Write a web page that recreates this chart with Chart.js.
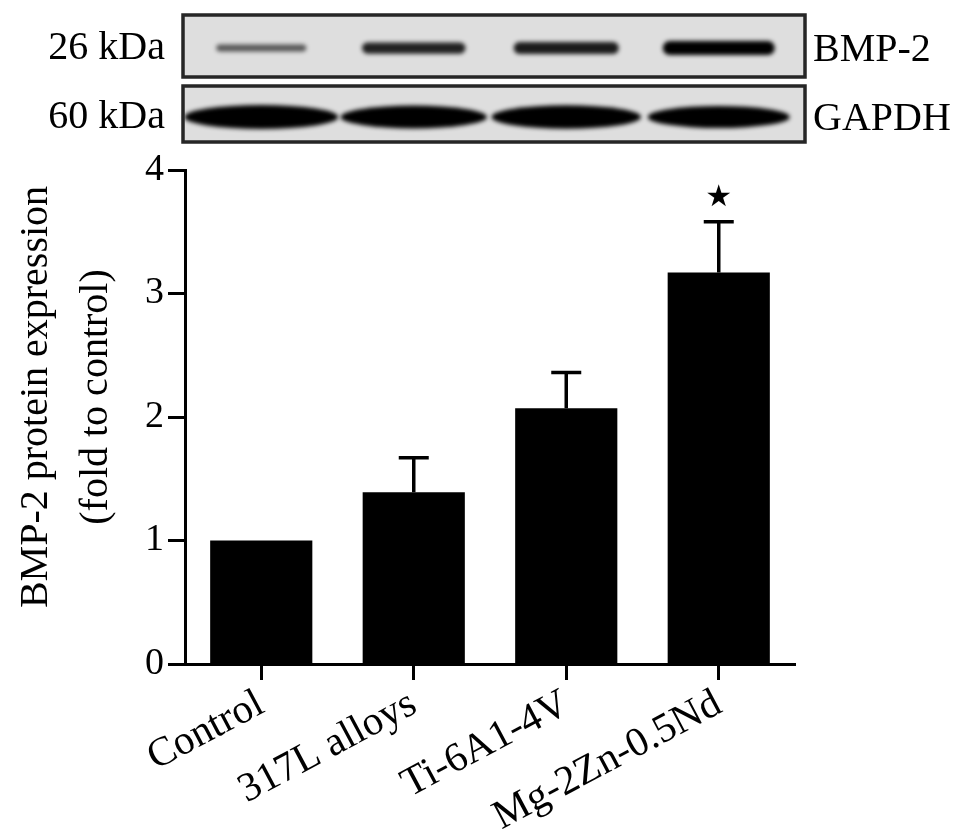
<!DOCTYPE html>
<html>
<head>
<meta charset="utf-8">
<script src="https://cdn.jsdelivr.net/npm/chart.js@4.4.1/dist/chart.umd.min.js"></script>
<style>
  body { margin: 0; background: #fff; }
  #wrap { width: 969px; height: 834px; position: relative; }
</style>
</head>
<body>
<div id="wrap"><canvas id="myChart"></canvas></div>
<script>
const groups = ['Control', '317L alloys', 'Ti-6A1-4V', 'Mg-2Zn-0.5Nd'];
const expression = [1.0, 1.39, 2.07, 3.17];
const errors = [0, 0.28, 0.29, 0.41];
const significance = ['', '', '', '★'];
const yTicks = [0, 1, 2, 3, 4];
const yTitle = ['BMP-2 protein expression', '(fold to control)'];

// western blot strip above the chart, band strength per lane
const blotRows = ['BMP-2', 'GAPDH'];
const blotSizes = ['26 kDa', '60 kDa'];
const bmp2Bands = [0.35, 0.75, 0.8, 1.0];
const gapdhBands = [1, 0.95, 0.97, 0.92];

const SERIF = "'Liberation Serif', 'Times New Roman', serif";
Chart.defaults.font.family = SERIF;
Chart.defaults.color = '#000';

function drawBand(ctx, cx, cy, w, h, alpha, lens) {
    ctx.save();
    ctx.filter = 'blur(2px)';
    ctx.fillStyle = 'rgba(0,0,0,' + alpha + ')';
    ctx.beginPath();
    if (lens) {
        ctx.ellipse(cx, cy, w / 2, h / 2, 0, 0, Math.PI * 2);
    } else {
        ctx.roundRect(cx - w / 2, cy - h / 2, w, h, h / 2);
    }
    ctx.fill();
    ctx.restore();
}

const blotPlugin = {
    id: 'blot',
    beforeDraw(chart) {
        let ctx = chart.ctx;
        let area = chart.chartArea;
        let x = chart.scales.x;
        let left = area.left - 2;
        let right = area.right + 10;
        let rows = [[15, 77, 48], [86, 142, 117]];

        ctx.save();
        rows.forEach((r, k) => {
            ctx.fillStyle = '#dedede';
            ctx.fillRect(left, r[0], right - left, r[1] - r[0]);
            let strengths = k === 0 ? bmp2Bands : gapdhBands;
            strengths.forEach((s, i) => {
                let cx = x.getPixelForValue(i);
                if (k === 0) {
                    drawBand(ctx, cx, r[2], 78 + 34 * s, 3 + 11 * s, 0.4 + 0.6 * s, false);
                } else {
                    drawBand(ctx, cx, r[2], 150 * s + 4, 24 * s, 1, true);
                }
            });
            ctx.strokeStyle = '#262626';
            ctx.lineWidth = 3.5;
            ctx.strokeRect(left, r[0], right - left, r[1] - r[0]);

            ctx.fillStyle = '#000';
            ctx.font = '40px ' + SERIF;
            ctx.textBaseline = 'middle';
            ctx.textAlign = 'right';
            ctx.fillText(blotSizes[k], 165, r[2]);
            ctx.textAlign = 'left';
            ctx.fillText(blotRows[k], right + 8, r[2] + 2);
        });

        // y axis title, two lines, sits a little above the plot centre
        ctx.translate(0, (area.top + area.bottom) / 2 - 20);
        ctx.rotate(-Math.PI / 2);
        ctx.font = '40px ' + SERIF;
        ctx.textAlign = 'center';
        ctx.textBaseline = 'middle';
        yTitle.forEach((line, i) => {
            ctx.fillText(line, 0, 36 + i * 60);
        });
        ctx.restore();
    }
};

const errorBarPlugin = {
    id: 'errorBars',
    afterDatasetsDraw(chart) {
        let ctx = chart.ctx;
        let y = chart.scales.y;
        let bars = chart.getDatasetMeta(0).data;
        ctx.save();
        ctx.strokeStyle = '#000';
        ctx.fillStyle = '#000';
        ctx.lineWidth = 3.5;
        bars.forEach((bar, i) => {
            if (!errors[i]) return;
            let top = y.getPixelForValue(expression[i] + errors[i]);
            ctx.beginPath();
            ctx.moveTo(bar.x, bar.y);
            ctx.lineTo(bar.x, top);
            ctx.moveTo(bar.x - 15, top);
            ctx.lineTo(bar.x + 15, top);
            ctx.stroke();
            if (significance[i]) {
                ctx.font = "30px 'DejaVu Sans'";
                ctx.textAlign = 'center';
                ctx.textBaseline = 'middle';
                ctx.fillText(significance[i], bar.x, top - 24);
            }
        });
        ctx.restore();
    }
};

let ctx = document.getElementById('myChart').getContext('2d');
new Chart(ctx, {
    type: 'bar',
    data: {
        labels: groups,
        datasets: [{
            data: expression,
            backgroundColor: '#000',
            borderWidth: 0,
            barPercentage: 0.67,
            categoryPercentage: 1
        }]
    },
    options: {
        responsive: true,
        maintainAspectRatio: false,
        animation: false,
        layout: { padding: { top: 170, right: 174, left: 0, bottom: 0 } },
        plugins: {
            legend: { display: false },
            tooltip: { enabled: false }
        },
        scales: {
            x: {
                offset: true,
                grid: { offset: false, drawOnChartArea: false, tickLength: 16, tickWidth: 3, tickColor: '#000' },
                border: { color: '#000', width: 3 },
                ticks: { autoSkip: false, minRotation: 28, maxRotation: 28, font: { size: 41 }, padding: 0 },
                afterFit: s => { s.height = 170; }
            },
            y: {
                min: 0,
                max: 4,
                afterBuildTicks: s => { s.ticks = yTicks.map(v => ({ value: v })); },
                grid: { drawOnChartArea: false, tickLength: 17, tickWidth: 3, tickColor: '#000' },
                border: { color: '#000', width: 3 },
                ticks: { font: { size: 38 }, padding: 4 },
                afterFit: s => { s.width = 185; }
            }
        }
    },
    plugins: [blotPlugin, errorBarPlugin]
});
</script>
</body>
</html>
